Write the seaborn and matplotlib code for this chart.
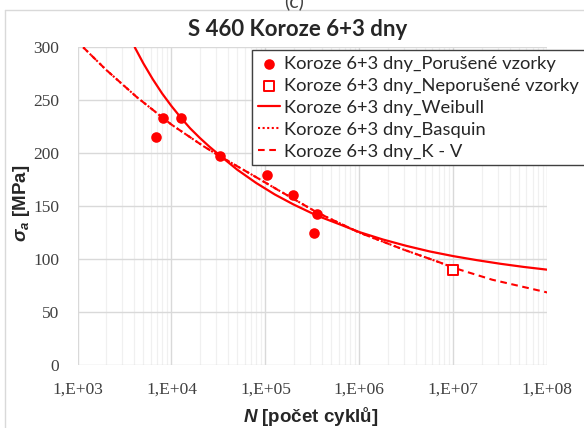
import numpy as np
import matplotlib
matplotlib.use("Agg")
import matplotlib.pyplot as plt
import matplotlib.ticker as mticker
from matplotlib.lines import Line2D
import seaborn as sns

# ------------------------------------------------------------------
# Data
# ------------------------------------------------------------------
broken_N = [6.8e3, 8.2e3, 1.25e4, 3.3e4, 1.05e5, 1.95e5, 3.5e5, 3.3e5]
broken_S = [215, 233, 233, 197, 179, 161, 143, 125]

runout_N = [1.0e7]
runout_S = [90]

weibull_N = [4070, 5010, 6310, 7940, 1.0e4, 1.26e4, 1.58e4, 2.0e4, 2.51e4,
             3.31e4, 5.0e4, 7.94e4, 1.26e5, 2.0e5, 3.55e5, 6.31e5, 1.0e6,
             1.78e6, 3.16e6, 5.62e6, 1.0e7, 1.78e7, 3.16e7, 5.62e7, 1.0e8]
weibull_S = [300, 285, 270, 256.5, 244.5, 233.5, 223.5, 214.5, 206.5,
             197.5, 184.5, 172, 161, 151.5, 141, 132.5, 125.5,
             118.5, 112.5, 107.2, 102.8, 99, 95.6, 92.6, 90]

basquin_N = [1150, 2000, 4270, 1.0e4, 2.2e4, 3.3e4, 7.4e4, 1.26e5, 3.55e5,
             1.0e6, 2.95e6, 6.6e6, 1.0e7]
basquin_S = [300, 279, 253, 227, 206.5, 197, 179, 167, 144,
             125, 109, 98, 92]

kv_N = [1150, 2000, 4270, 1.0e4, 2.2e4, 3.3e4, 7.4e4, 1.26e5, 3.55e5,
        1.0e6, 2.95e6, 6.6e6, 1.17e7, 2.6e7, 1.0e8]
kv_S = [300, 279, 253, 227, 206.5, 197, 179, 167, 144,
        125, 109, 98, 90, 80.5, 68.5]

labels = ["Koroze 6+3 dny_Porušené vzorky",
          "Koroze 6+3 dny_Neporušené vzorky",
          "Koroze 6+3 dny_Weibull",
          "Koroze 6+3 dny_Basquin",
          "Koroze 6+3 dny_K - V"]

x_ticks = [1e3, 1e4, 1e5, 1e6, 1e7, 1e8]
y_ticks = [0, 50, 100, 150, 200, 250, 300]

RED = "#FF0000"

# ------------------------------------------------------------------
# Style
# ------------------------------------------------------------------
sns.set_style("white")
plt.rcParams["font.family"] = ["Lato", "DejaVu Sans"]
plt.rcParams["mathtext.fontset"] = "custom"
plt.rcParams["mathtext.it"] = "Liberation Sans:italic:bold"
plt.rcParams["mathtext.rm"] = "Liberation Sans:bold"

fig = plt.figure(figsize=(5.84, 4.28), dpi=100)
W, H = 584, 428
ax = fig.add_axes([77.5 / W, 1 - 365 / H, (547.3 - 77.5) / W, (365 - 47.3) / H])
ax.set_xscale("log")

# ------------------------------------------------------------------
# Curves and points
# ------------------------------------------------------------------
sns.lineplot(x=weibull_N, y=weibull_S, ax=ax, color=RED, lw=1.6,
             label=labels[2], zorder=3)
sns.lineplot(x=basquin_N, y=basquin_S, ax=ax, color=RED, lw=1.5,
             linestyle=(0, (1, 1.2)), label=labels[3], zorder=3)
sns.lineplot(x=kv_N, y=kv_S, ax=ax, color=RED, lw=1.5,
             linestyle=(0, (3.2, 2.2)), label=labels[4], zorder=3)
sns.scatterplot(x=broken_N, y=broken_S, ax=ax, color=RED, s=58,
                edgecolor=RED, linewidth=0, label=labels[0], zorder=4)
sns.scatterplot(x=runout_N, y=runout_S, ax=ax, marker="s", s=50,
                facecolor="white", edgecolor=RED, linewidth=1.4,
                label=labels[1], zorder=4)

# ------------------------------------------------------------------
# Axes
# ------------------------------------------------------------------
ax.set_xlim(1e3, 1e8)
ax.set_ylim(0, 300)
ax.xaxis.set_major_locator(mticker.FixedLocator(x_ticks))
ax.xaxis.set_minor_locator(mticker.LogLocator(base=10, subs=np.arange(2, 10)))
ax.xaxis.set_major_formatter(mticker.FuncFormatter(
    lambda v, p: "1,E+%02d" % int(round(np.log10(v)))))
ax.xaxis.set_minor_formatter(mticker.NullFormatter())
ax.set_yticks(y_ticks)

ax.grid(True, which="major", color="#d9d9d9", lw=1.0)
ax.grid(True, which="minor", axis="x", color="#f0f0f0", lw=0.9)
ax.set_axisbelow(True)
for s in ax.spines.values():
    s.set_visible(False)

ax.tick_params(axis="both", which="both", length=0)
ax.tick_params(axis="x", pad=12)
ax.tick_params(axis="y", pad=13)
for t in ax.get_xticklabels() + ax.get_yticklabels():
    t.set_fontfamily("Liberation Serif")
    t.set_fontsize(12.5)
    t.set_color("#404040")

ax.set_xlabel("")
ax.set_ylabel("")
fig.text(311 / W, 1 - 416.7 / H, r"$N$ [počet cyklů]", ha="center", va="center",
         fontsize=13.5, fontweight="bold", family="Liberation Sans")
fig.text(22 / W, 1 - 203 / H, r"$\sigma_a$ [MPa]", ha="center", va="center",
         rotation=90, fontsize=13.5, fontweight="bold", family="Liberation Sans")

fig.text(298 / W, 1 - 30 / H, "S 460 Koroze 6+3 dny", ha="center", va="center",
         fontsize=16, fontweight="bold")
fig.text(294 / W, 1 - 7 / H, "(c)", ha="center", va="baseline", fontsize=14,
         color="#404040")

# outer frame (only left and top edges are visible)
fig.add_artist(Line2D([4.8 / W, 4.8 / W], [0, 1 - 10 / H], color="#d9d9d9", lw=1))
fig.add_artist(Line2D([4.8 / W, 1], [1 - 10 / H, 1 - 10 / H], color="#d9d9d9", lw=1))

# ------------------------------------------------------------------
# Legend
# ------------------------------------------------------------------
handles, labs = ax.get_legend_handles_labels()
order = [labs.index(l) for l in labels]
leg = ax.legend([handles[i] for i in order], [labs[i] for i in order],
                loc="upper left", bbox_to_anchor=(252 / W, 1 - 50 / H),
                bbox_transform=fig.transFigure, borderaxespad=0, borderpad=0.3,
                fontsize=13.2, handlelength=1.25, handletextpad=0.22,
                labelspacing=0.33, frameon=True, fancybox=False)
leg.get_frame().set_edgecolor("#404040")
leg.get_frame().set_linewidth(1.0)
leg.get_frame().set_alpha(1)
leg.set_zorder(10)

plt.savefig("out.png", dpi=100)
